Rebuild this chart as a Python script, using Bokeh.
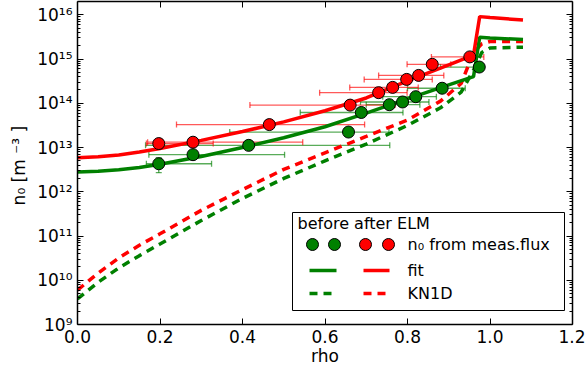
from bokeh.plotting import figure
from bokeh.models import (ColumnDataSource, Whisker, TeeHead, FixedTicker, LogAxis, LinearAxis,
                          PrintfTickFormatter, CustomJSTickFormatter, BoxAnnotation, Label, Arrow, Range1d)
from bokeh.embed import file_html
from bokeh.resources import INLINE

# ---------------- data ----------------
before_rho = [0.197, 0.280, 0.415, 0.657, 0.688, 0.756, 0.788, 0.820, 0.884, 0.974]
before_n0 = [4.3e12, 6.9e12, 1.12e13, 2.24e13, 6.2e13, 9.3e13, 1.07e14, 1.41e14, 2.19e14, 6.6e14]
before_rho_lo = [0.167, 0.173, 0.165, 0.369, 0.540, 0.700, 0.686, 0.740, 0.800, 0.880]
before_rho_hi = [0.325, 0.502, 0.757, 0.755, 0.789, 0.830, 0.852, 0.870, 0.940, 0.985]
before_n0_lo = [2.7e12, 6.9e12, 1.12e13, 2.24e13, 6.2e13, 9.3e13, 1.07e14, 1.41e14, 2.19e14, 6.6e14]
before_n0_hi = [5.9e12, 6.9e12, 1.12e13, 2.24e13, 6.2e13, 9.3e13, 1.07e14, 1.41e14, 2.19e14, 6.6e14]

after_rho = [0.197, 0.280, 0.465, 0.661, 0.730, 0.764, 0.798, 0.827, 0.860, 0.951]
after_n0 = [1.23e13, 1.32e13, 3.3e13, 9.1e13, 1.74e14, 2.29e14, 3.47e14, 4.27e14, 7.6e14, 1.12e15]
after_rho_lo = [0.167, 0.170, 0.240, 0.418, 0.587, 0.660, 0.695, 0.730, 0.799, 0.858]
after_rho_hi = [0.329, 0.546, 0.696, 0.770, 0.799, 0.826, 0.860, 0.888, 0.905, 0.985]

fit_rho = [0.0, 0.05, 0.1, 0.15, 0.2, 0.3, 0.4, 0.5, 0.6, 0.7, 0.8, 0.9, 0.96, 0.975, 1.0, 1.08]
fit_before = [2.8e12, 2.9e12, 3.15e12, 3.55e12, 4.2e12, 6.3e12, 1.0e13, 1.66e13, 2.95e13, 6.0e13,
              1.26e14, 2.6e14, 4.0e14, 3.1e15, 3.0e15, 2.75e15]
fit_after = [5.9e12, 6.2e12, 6.8e12, 7.9e12, 9.5e12, 1.45e13, 2.3e13, 3.8e13, 6.8e13, 1.32e14,
             3.2e14, 7.4e14, 1.23e15, 9.1e15, 8.7e15, 7.6e15]

kn1d_rho = [0.0, 0.05, 0.1, 0.15, 0.2, 0.3, 0.4, 0.5, 0.6, 0.7, 0.8, 0.88, 0.93, 0.96, 0.98, 1.0, 1.08]
kn1d_before = [3.8e9, 9.0e9, 1.9e10, 3.6e10, 6.6e10, 2.24e11, 7.1e11, 2.0e12, 5.0e12, 1.2e13, 3.16e13,
               7.9e13, 1.78e14, 5.6e14, 1.41e15, 1.78e15, 1.86e15]
kn1d_after = [6.0e9, 1.45e10, 3.2e10, 6.2e10, 1.12e11, 3.8e11, 1.12e12, 3.2e12, 7.6e12, 1.78e13, 4.2e13,
              1.12e14, 2.8e14, 1.4e15, 2.2e15, 2.5e15, 2.5e15]

x_ticks = [0.0, 0.2, 0.4, 0.6, 0.8, 1.0, 1.2]
y_exponents = [9, 10, 11, 12, 13, 14, 15, 16]

GREEN = "#008000"
RED = "#ff0000"
FONT = "DejaVu Sans"
FS = "17px"

# ---------------- figure ----------------
p = figure(width=585, height=369, y_axis_type="log", output_backend="svg", toolbar_location=None,
           x_range=Range1d(0, 1.2), y_range=Range1d(1e9, 2e16),
           min_border_left=77, min_border_right=13, min_border_top=1, min_border_bottom=45)
p.grid.visible = False
p.outline_line_color = None
p.background_fill_color = "white"
p.border_fill_color = "white"

y_major = [10.0 ** e for e in y_exponents]
y_minor = [k * 10.0 ** e for e in y_exponents[:-1] for k in range(2, 10)]

sup_js = """
const e = Math.round(Math.log10(tick));
const sup = {'0':'\u2070','1':'\u00b9','2':'\u00b2','3':'\u00b3','4':'\u2074','5':'\u2075','6':'\u2076','7':'\u2077','8':'\u2078','9':'\u2079','-':'\u207b'};
return '10' + String(e).split('').map(c => sup[c]).join('');
"""

xa = p.xaxis[0]
xa.ticker = FixedTicker(ticks=x_ticks)
xa.formatter = PrintfTickFormatter(format="%.1f")
xa.axis_label = "rho"
ya = p.yaxis[0]
ya.ticker = FixedTicker(ticks=y_major, minor_ticks=y_minor)
ya.formatter = CustomJSTickFormatter(code=sup_js)
ya.axis_label = "n\u2080 [m  \u207b\u00b3 ]"

top = LinearAxis(ticker=FixedTicker(ticks=x_ticks), major_label_text_font_size="1px",
                 major_label_text_color=None, major_label_standoff=0)
right = LogAxis(ticker=FixedTicker(ticks=y_major, minor_ticks=y_minor), major_label_text_font_size="1px",
                major_label_text_color=None, major_label_standoff=0)
p.add_layout(top, "above")
p.add_layout(right, "right")

for ax in [xa, ya, top, right]:
    ax.axis_line_width = 1.5
    ax.axis_line_color = "black"
    ax.major_tick_in = 6
    ax.major_tick_out = 0
    ax.minor_tick_in = 3
    ax.minor_tick_out = 0
    ax.major_tick_line_color = "black"
    ax.minor_tick_line_color = "black"
for ax in [xa, top]:
    ax.minor_tick_line_color = None
for ax in [xa, ya]:
    ax.major_label_text_font = FONT
    ax.major_label_text_font_size = FS
    ax.major_label_text_color = "black"
    ax.axis_label_text_font = FONT
    ax.axis_label_text_font_size = FS
    ax.axis_label_text_font_style = "normal"
    ax.axis_label_text_color = "black"
xa.major_label_standoff = 5
xa.axis_label_standoff = 0
ya.major_label_standoff = 5
ya.axis_label_standoff = 5

# ---------------- error bars ----------------
src_b = ColumnDataSource(dict(x=before_rho, y=before_n0, lo=before_rho_lo, hi=before_rho_hi,
                              ylo=before_n0_lo, yhi=before_n0_hi))
src_a = ColumnDataSource(dict(x=after_rho, y=after_n0, lo=after_rho_lo, hi=after_rho_hi))

for src, col in [(src_b, GREEN), (src_a, RED)]:
    w = Whisker(source=src, base="y", lower="lo", upper="hi", dimension="width", level="underlay",
                line_color=col, line_alpha=0.65, line_width=1.3,
                lower_head=TeeHead(size=6, line_color=col, line_alpha=0.65, line_width=1.3),
                upper_head=TeeHead(size=6, line_color=col, line_alpha=0.65, line_width=1.3))
    p.add_layout(w)
wy = Whisker(source=src_b, base="x", lower="ylo", upper="yhi", dimension="height", level="underlay",
             line_color=GREEN, line_alpha=0.65, line_width=1.3,
             lower_head=TeeHead(size=6, line_color=GREEN, line_alpha=0.65, line_width=1.3),
             upper_head=TeeHead(size=6, line_color=GREEN, line_alpha=0.65, line_width=1.3))
p.add_layout(wy)

# ---------------- lines and points ----------------
p.line(kn1d_rho, kn1d_before, line_color=GREEN, line_width=3.5, line_dash="8 6")
p.line(kn1d_rho, kn1d_after, line_color=RED, line_width=3.5, line_dash="8 6")
p.line(fit_rho, fit_before, line_color=GREEN, line_width=3.5)
p.line(fit_rho, fit_after, line_color=RED, line_width=3.5)
p.scatter("x", "y", source=src_b, size=12, fill_color=GREEN, line_color="black", line_width=1)
p.scatter("x", "y", source=src_a, size=12, fill_color=RED, line_color="black", line_width=1)

# ---------------- legend (annotations in screen units, relative to the plot frame) ----------------
U = dict(left_units="screen", right_units="screen", top_units="screen", bottom_units="screen")
p.add_layout(BoxAnnotation(left=215, right=487, top=112, bottom=14, fill_color="white", fill_alpha=1,
                           line_color="black", line_width=1, line_alpha=1, level="annotation", **U))

def txt(x, y, s):
    p.add_layout(Label(x=x, y=y, x_units="screen", y_units="screen", text=s, text_font=FONT,
                       text_font_size="16px", text_color="black", text_baseline="middle",
                       text_align="left"))

txt(220, 101, "before after ELM")
txt(330, 80, "n\u2080 from meas.flux")
txt(330, 54, "fit")
txt(330, 31, "KN1D")

for cx, col in [(235, GREEN), (257, GREEN), (288, RED), (311, RED)]:
    p.add_layout(BoxAnnotation(left=cx - 6, right=cx + 6, top=80 + 6, bottom=80 - 6, border_radius=6,
                               fill_color=col, fill_alpha=1, line_color="black", line_width=1,
                               line_alpha=1, level="annotation", **U))
for x0, x1, col in [(232, 259, GREEN), (286, 312, RED)]:
    p.add_layout(Arrow(end=None, x_start=x0, y_start=54, x_end=x1, y_end=54, start_units="screen",
                       end_units="screen", line_color=col, line_width=3.5))
    p.add_layout(Arrow(end=None, x_start=x0, y_start=31, x_end=x1, y_end=31, start_units="screen",
                       end_units="screen", line_color=col, line_width=3.5, line_dash="8 6"))

open("out.html", "w").write(file_html(p, INLINE))
